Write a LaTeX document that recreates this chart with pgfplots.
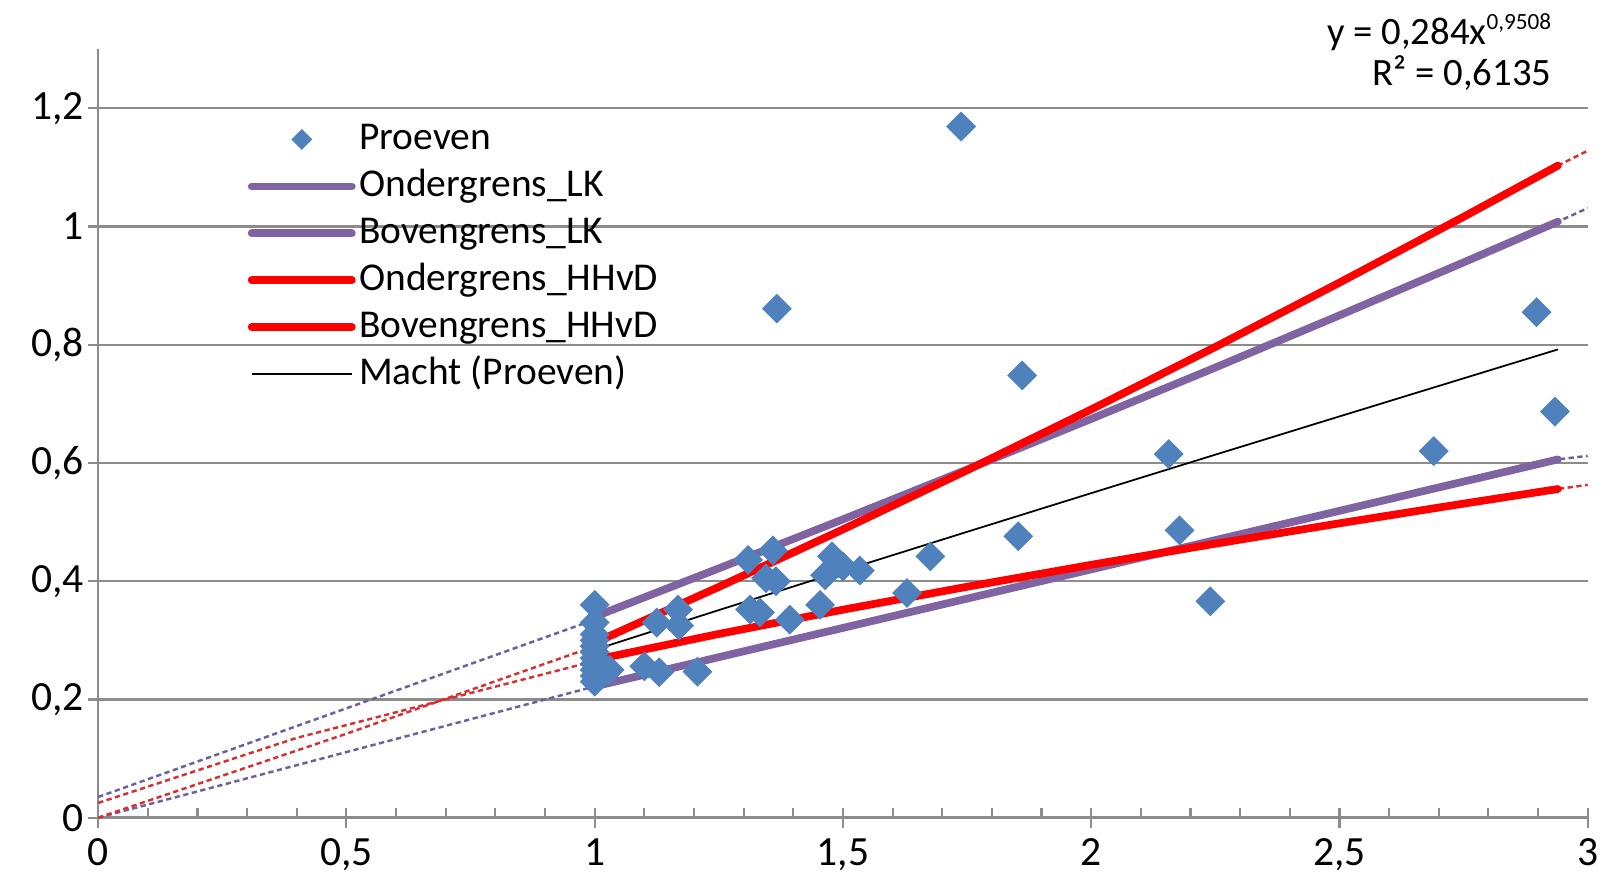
\documentclass[border=0pt]{standalone}
\usepackage{fontspec}
\setmainfont{Carlito}
\usepackage{pgfplots}
\pgfplotsset{compat=1.18}
\definecolor{ptblue}{HTML}{4F81BD}
\definecolor{lkpurple}{HTML}{8064A2}
\definecolor{hhred}{HTML}{FF0000}
\definecolor{gridgray}{HTML}{8C8C8C}
\definecolor{dotpurple}{HTML}{6F5F9A}
\definecolor{dotred}{HTML}{D83030}

\begin{document}
\fontsize{11pt}{13pt}\selectfont
\begin{tikzpicture}
\begin{axis}[
  scale only axis, width=14.87cm, height=7.673cm,
  xmin=0, xmax=3, ymin=0, ymax=1.3,
  clip=false,
  axis x line*=bottom, axis y line*=left,
  axis line style={gridgray, line width=0.7pt},
  xtick={0,0.5,1,1.5,2,2.5,3}, minor x tick num=4,
  ytick={0,0.2,0.4,0.6,0.8,1,1.2},
  ymajorgrids, grid style={gridgray, line width=0.6pt},
  tick align=center, major tick length=0.2cm, minor tick length=0.1cm,
  tick style={gridgray, line width=0.6pt},
  every minor x tick/.append style={yshift=0.05cm},
  /pgf/number format/assume math mode=true,
  /pgf/number format/use comma,
  ticklabel style={font=\fontsize{11.8}{13}\selectfont},
  xticklabel style={yshift=0.03cm, inner xsep=0pt},
  yticklabel style={xshift=0.09cm},
  legend style={at={(axis cs:0.30,1.188)}, anchor=north west, draw=none, fill=none,
    inner sep=0pt, row sep=0pt, column sep=0pt,
    nodes={inner sep=1pt, text height=0.78em, text depth=0.25em, font=\fontsize{11.2}{13}\selectfont}},
  legend cell align=left,
  legend image code/.code={\draw[mark repeat=2,mark phase=2,#1] plot coordinates {(0cm,0cm) (0.5cm,0cm) (1.0cm,0cm)};},
]
% Proeven
\addplot[only marks, mark=square*, mark size=2.8pt,
  mark options={rotate=45, fill=ptblue, draw=ptblue},
  legend image post style={mark size=1.9pt}] coordinates {
(1.00,0.36) (1.00,0.33) (1.00,0.31) (1.00,0.30) (1.00,0.29) (1.00,0.28)
(1.00,0.27) (1.00,0.26) (1.00,0.25) (1.00,0.24) (1.00,0.23) (1.01,0.245) (1.03,0.25)
(1.10,0.256) (1.125,0.330) (1.13,0.246) (1.168,0.352) (1.17,0.325) (1.207,0.247)
(1.309,0.436) (1.313,0.352) (1.333,0.347) (1.345,0.405) (1.359,0.452) (1.365,0.400) (1.393,0.335)
(1.367,0.861)
(1.454,0.360) (1.464,0.410) (1.478,0.442) (1.490,0.430) (1.500,0.425) (1.534,0.418)
(1.629,0.380) (1.676,0.442) (1.738,1.169) (1.853,0.476) (1.861,0.748)
(2.156,0.615) (2.178,0.486) (2.240,0.366) (2.690,0.620) (2.897,0.855) (2.934,0.687)
};
\addlegendentry{Proeven}
% dotted trend extensions
\addplot[forget plot, dotpurple, line width=0.7pt, dash pattern=on 1.5pt off 1pt] coordinates {
(0,0.035) (0.5,0.185) (1,0.335) (1.5,0.5046) (2,0.6745) (2.5,0.8496) (2.94,1.0081) (3,1.031)};
\addplot[forget plot, dotpurple, line width=0.7pt, dash pattern=on 1.5pt off 1pt] coordinates {
(0,0.0) (0.5,0.111) (1,0.222) (1.5,0.321) (2,0.420) (2.5,0.519) (2.94,0.606) (3,0.612)};
\addplot[forget plot, dotred, line width=0.7pt, dash pattern=on 1.5pt off 1pt] coordinates {
(0,0.0) (0.5,0.142) (1,0.29) (1.5,0.4876) (2,0.6905) (2.5,0.905) (2.94,1.1029) (3,1.128)};
\addplot[forget plot, dotred, line width=0.7pt, dash pattern=on 1.5pt off 1pt] coordinates {
(0,0.025) (0.4,0.135) (1,0.265) (1.5,0.3518) (2,0.4277) (2.5,0.4979) (2.94,0.5559) (3,0.563)};
% Ondergrens_LK
\addplot[lkpurple, line width=2.2pt, line cap=round] coordinates {
(1,0.222) (1.5,0.321) (2,0.420) (2.5,0.519) (2.94,0.606)};
\addlegendentry{Ondergrens\_LK}
% Bovengrens_LK
\addplot[lkpurple, line width=2.2pt, line cap=round] coordinates {
(1,0.340) (1.25,0.4217) (1.5,0.5046) (1.75,0.5889) (2,0.6745) (2.25,0.7614) (2.5,0.8496) (2.75,0.9392) (2.94,1.0081)};
\addlegendentry{Bovengrens\_LK}
% Ondergrens_HHvD
\addplot[hhred, line width=2.2pt, line cap=round] coordinates {
(1,0.267) (1.25,0.3108) (1.5,0.3518) (1.75,0.3906) (2,0.4277) (2.25,0.4634) (2.5,0.4979) (2.75,0.5312) (2.94,0.5559)};
\addlegendentry{Ondergrens\_HHvD}
% Bovengrens_HHvD
\addplot[hhred, line width=2.2pt, line cap=round] coordinates {
(1,0.296) (1.25,0.3903) (1.5,0.4876) (1.75,0.5876) (2,0.6905) (2.25,0.7962) (2.5,0.905) (2.75,1.0163) (2.94,1.1029)};
\addlegendentry{Bovengrens\_HHvD}
% Macht (Proeven)
\addplot[black, line width=0.5pt] coordinates {
(1,0.284) (1.25,0.3511) (1.5,0.4176) (1.75,0.4835) (2,0.5489) (2.25,0.6140) (2.5,0.6787) (2.75,0.7431) (2.94,0.792)};
\addlegendentry{Macht (Proeven)}
\node[align=right, inner sep=0pt, font=\fontsize{11}{11.8}\selectfont, anchor=east] at (axis cs:2.928,1.295)
  {y = 0,284x\raisebox{0.8ex}{\fontsize{6.6}{7}\selectfont 0,9508}\\R² = 0,6135};
\end{axis}
\path ([shift={(-0.98cm,-0.673cm)}]current axis.south west) rectangle ([shift={(0.153cm,0.49cm)}]current axis.north east);
\end{tikzpicture}
\end{document}
